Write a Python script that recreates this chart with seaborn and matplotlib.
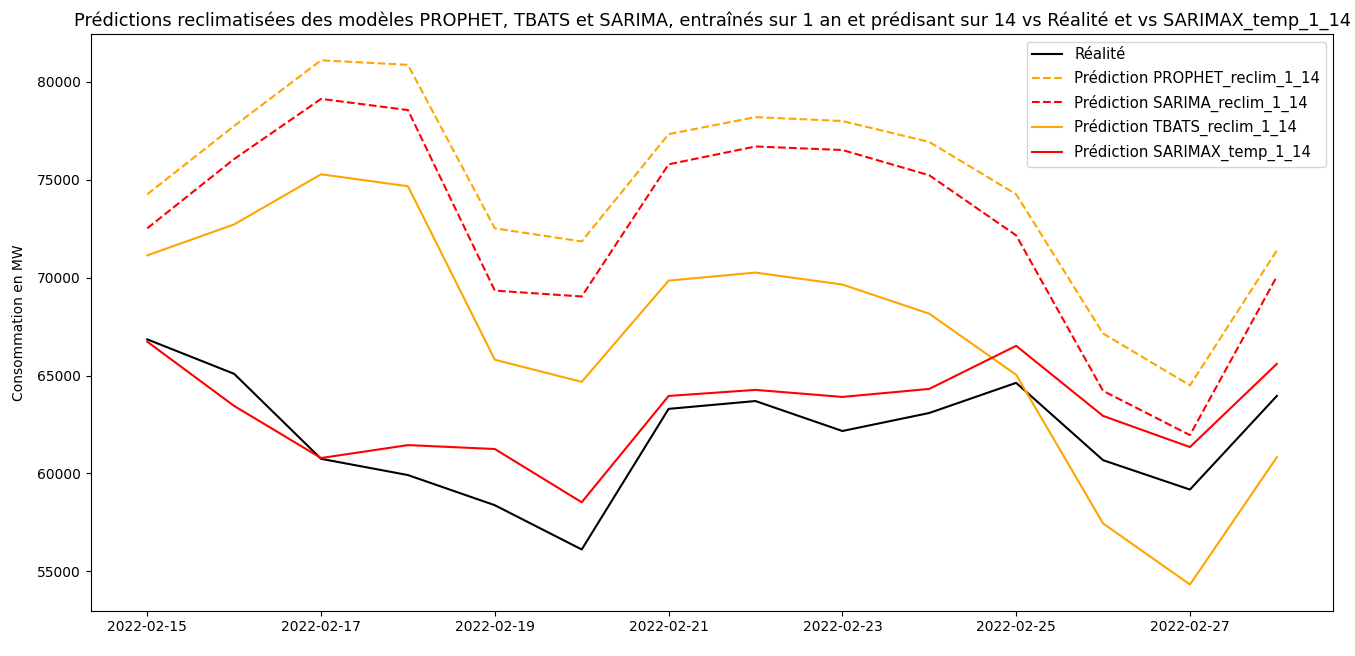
import matplotlib
matplotlib.use("Agg")
import matplotlib.pyplot as plt
import seaborn as sns
import pandas as pd
import numpy as np

dates = pd.date_range("2022-02-15", "2022-02-28", freq="D")

realite = [66850, 65090, 60750, 59920, 58380, 56120, 63300, 63700, 62170, 63090, 64630, 60680, 59180, 63960]
prophet = [74260, 77750, 81100, 80870, 72520, 71850, 77330, 78200, 78000, 76930, 74260, 67150, 64500, 71390]
sarima = [72520, 76060, 79130, 78560, 69340, 69040, 75790, 76700, 76520, 75230, 72160, 64220, 61960, 70060]
tbats = [71140, 72720, 75280, 74670, 65810, 64680, 69850, 70260, 69650, 68160, 65040, 57450, 54330, 60830]
sarimax = [66730, 63450, 60790, 61450, 61250, 58530, 63960, 64270, 63910, 64320, 66520, 62940, 61350, 65600]

series = [
    ("Réalité", realite, "black", "-"),
    ("Prédiction PROPHET_reclim_1_14", prophet, "orange", "--"),
    ("Prédiction SARIMA_reclim_1_14", sarima, "red", "--"),
    ("Prédiction TBATS_reclim_1_14", tbats, "orange", "-"),
    ("Prédiction SARIMAX_temp_1_14", sarimax, "red", "-"),
]

fig, ax = plt.subplots(figsize=(13.55, 6.56), dpi=100)
fig.subplots_adjust(left=0.067, right=0.984, top=0.948, bottom=0.069)

for label, vals, color, ls in series:
    sns.lineplot(x=dates, y=vals, ax=ax, color=color, linestyle=ls, label=label)

ax.set_title("Prédictions reclimatisées des modèles PROPHET, TBATS et SARIMA, entraînés sur 1 an et prédisant sur 14 vs Réalité et vs SARIMAX_temp_1_14", fontsize=12.8)
ax.set_ylabel("Consommation en MW", labelpad=8)
ax.set_xlabel("")
ax.set_xticks(dates[::2])
ax.set_xticklabels([d.strftime("%Y-%m-%d") for d in dates[::2]])
ax.legend(loc="upper right", fontsize=10.7)
fig.savefig("out.png", dpi=100)
